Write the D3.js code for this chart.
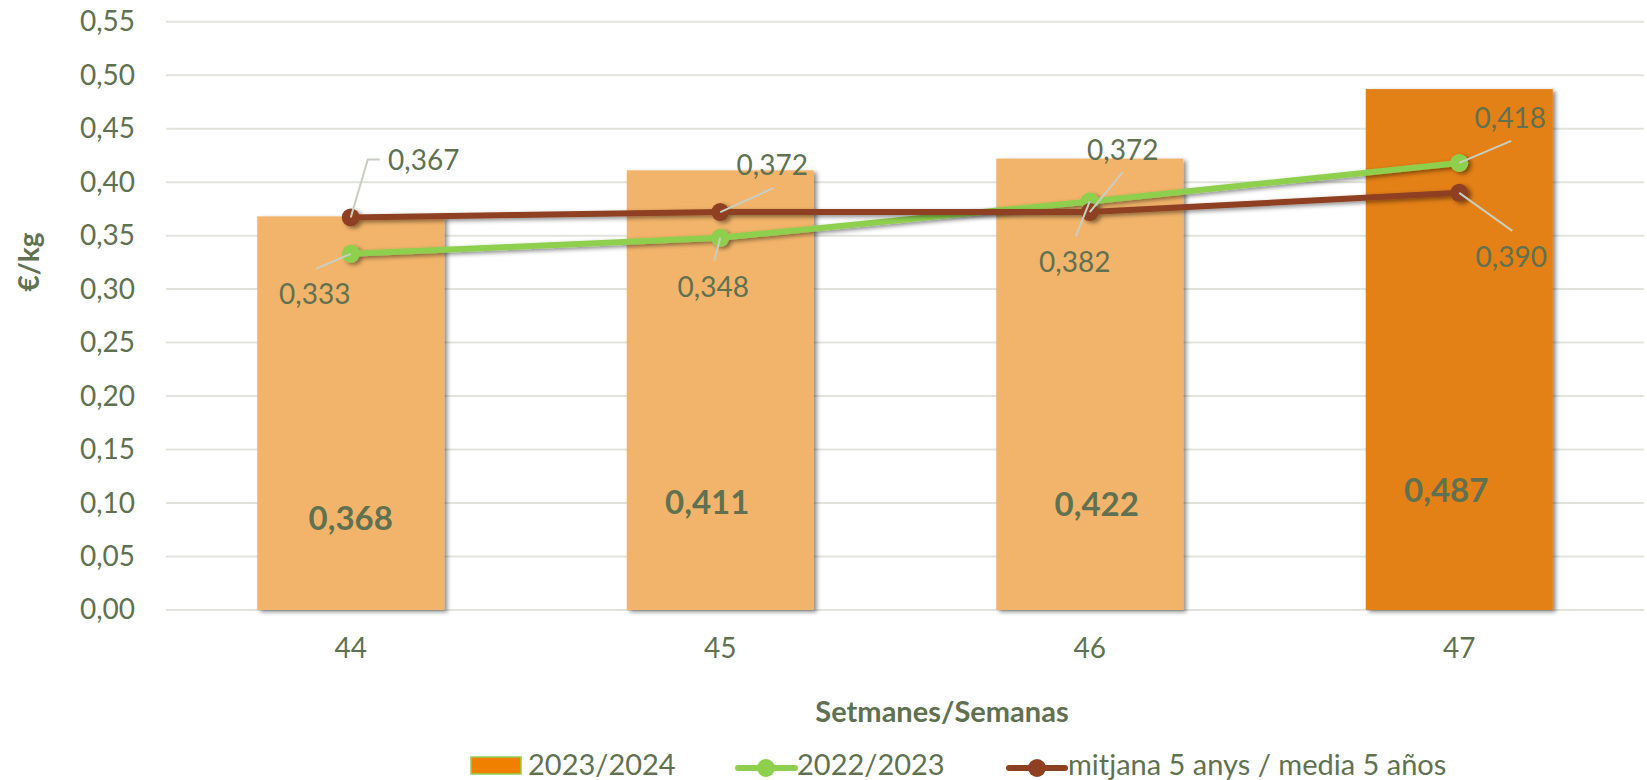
<!DOCTYPE html>
<html>
<head>
<meta charset="utf-8">
<script src="https://cdn.jsdelivr.net/npm/d3@7"></script>
<style>
  body { margin: 0; background: #fff; }
  text { font-family: Lato, "Open Sans", sans-serif; fill: #5f7150; }
</style>
</head>
<body>
<script>
// data
var weeks = ['44', '45', '46', '47'];
var current = [0.368, 0.411, 0.422, 0.487];      // 2023/2024
var lastYear = [0.333, 0.348, 0.382, 0.418];     // 2022/2023
var avg5 = [0.367, 0.372, 0.372, 0.390];         // mitjana 5 anys
var yTicks = [0, 0.05, 0.10, 0.15, 0.20, 0.25, 0.30, 0.35, 0.40, 0.45, 0.50, 0.55];

// label placement (hand tuned, like the excel chart)
var barLabelAt = [0.086, 0.101, 0.099, 0.112];
var barLabelDx = [0, -13, 7, -13];
var avgLabels = [
  {lx: 17, ly: -58, elbow: 12, tx: 73, ty: -57},
  {lx: 53, ly: -24, tx: 52, ty: -47},
  {lx: 33, ly: -40, tx: 33, ty: -62},
  {lx: 53, ly: 38, tx: 52, ty: 64}
];
var lastLabels = [
  {lx: -35, ly: 15, tx: -36, ty: 40},
  {lx: -6, ly: 23, tx: -7, ty: 49},
  {lx: -14, ly: 35, tx: -15, ty: 61},
  {lx: 52, ly: -22, tx: 51, ty: -45}
];

var width = 1647,
    height = 780;

var fmt = d3.formatLocale({decimal: ',', thousands: '.', grouping: [3], currency: ['', '€']});
var f2 = fmt.format('.2f'),
    f3 = fmt.format('.3f');

var svg = d3.select('body')
  .append('svg')
    .attr('width', width)
    .attr('height', height);

var defs = svg.append('defs');
defs.append('filter')
    .attr('id', 'shadow')
    .attr('x', '-10%').attr('y', '-10%')
    .attr('width', '130%').attr('height', '130%')
  .append('feDropShadow')
    .attr('dx', 3).attr('dy', 2)
    .attr('stdDeviation', 2)
    .attr('flood-color', '#000')
    .attr('flood-opacity', 0.45);

var x = d3.scaleBand()
    .domain(weeks)
    .range([166, 1644])
    .paddingInner(0.494)
    .paddingOuter(0.247);

var y = d3.scaleLinear()
    .domain([0, 0.55])
    .range([610, 21.7]);

var cx = function(i){ return x(weeks[i]) + x.bandwidth() / 2; };

// gridlines
svg.append('g')
  .selectAll('line')
  .data(yTicks).enter()
  .append('line')
    .attr('x1', 166)
    .attr('x2', 1644)
    .attr('y1', function(d){ return y(d); })
    .attr('y2', function(d){ return y(d); })
    .attr('stroke', '#e3e3db')
    .attr('stroke-width', 2);

// y axis
var yAxis = svg.append('g')
    .attr('transform', 'translate(140,0)')
    .call(d3.axisLeft(y).tickValues(yTicks).tickFormat(f2).tickSize(0).tickPadding(5));
yAxis.select('.domain').remove();
yAxis.selectAll('text')
    .style('font-size', '28px')
    .style('font-family', 'Lato, sans-serif')
    .attr('fill', '#5f7150');

// x axis
var xAxis = svg.append('g')
    .attr('transform', 'translate(0,610)')
    .call(d3.axisBottom(x).tickSize(0).tickPadding(28));
xAxis.select('.domain').remove();
xAxis.selectAll('text')
    .style('font-size', '28px')
    .style('font-family', 'Lato, sans-serif')
    .attr('fill', '#5f7150');

// bars
svg.append('g')
  .selectAll('rect')
  .data(current).enter()
  .append('rect')
    .attr('x', function(d, i){ return x(weeks[i]); })
    .attr('y', function(d){ return y(d); })
    .attr('width', x.bandwidth())
    .attr('height', function(d){ return y(0) - y(d); })
    .attr('fill', function(d, i){ return i == current.length - 1 ? '#e38012' : '#f2b46b'; })
    .attr('filter', 'url(#shadow)');

svg.append('g')
  .selectAll('text')
  .data(current).enter()
  .append('text')
    .attr('x', function(d, i){ return cx(i) + barLabelDx[i]; })
    .attr('y', function(d, i){ return y(barLabelAt[i]); })
    .attr('dy', '0.35em')
    .attr('text-anchor', 'middle')
    .style('font-size', '33px')
    .style('font-weight', 'bold')
    .text(function(d){ return f3(d); });

// lines
var line = d3.line()
    .x(function(d, i){ return cx(i); })
    .y(function(d){ return y(d); });

function drawSeries(values, color){
  var g = svg.append('g').attr('filter', 'url(#shadow)');
  g.append('path')
      .datum(values)
      .attr('d', line)
      .attr('fill', 'none')
      .attr('stroke', color)
      .attr('stroke-width', 6);
  g.selectAll('circle')
      .data(values).enter()
    .append('circle')
      .attr('cx', function(d, i){ return cx(i); })
      .attr('cy', function(d){ return y(d); })
      .attr('r', 9)
      .attr('fill', color);
}

drawSeries(lastYear, '#8ed04e');
drawSeries(avg5, '#8f4020');

function drawLabels(values, layout){
  var g = svg.append('g');
  values.forEach(function(v, i){
    var px = cx(i), py = y(v), L = layout[i];
    var pts = [[px, py], [px + L.lx, py + L.ly]];
    if (L.elbow) pts.push([px + L.lx + L.elbow, py + L.ly]);
    g.append('path')
        .attr('d', d3.line()(pts))
        .attr('fill', 'none')
        .attr('stroke', '#c8cec2')
        .attr('stroke-width', 2);
    g.append('text')
        .attr('x', px + L.tx)
        .attr('y', py + L.ty)
        .attr('dy', '0.35em')
        .attr('text-anchor', 'middle')
        .style('font-size', '28px')
        .text(f3(v));
  });
}

drawLabels(avg5, avgLabels);
drawLabels(lastYear, lastLabels);

// axis titles
svg.append('text')
    .attr('transform', 'translate(29,262) rotate(-90)')
    .attr('dy', '0.35em')
    .attr('text-anchor', 'middle')
    .style('font-size', '28px')
    .style('font-weight', 'bold')
    .text('€/kg');

svg.append('text')
    .attr('x', 942)
    .attr('y', 712)
    .attr('dy', '0.35em')
    .attr('text-anchor', 'middle')
    .style('font-size', '29px')
    .style('font-weight', 'bold')
    .text('Setmanes/Semanas');

// legend
var leg = svg.append('g').attr('transform', 'translate(0,765)');

leg.append('rect')
    .attr('x', 471).attr('y', -8)
    .attr('width', 50).attr('height', 17)
    .attr('fill', '#f08000')
    .attr('stroke', '#92d050')
    .attr('stroke-width', 1.5);
leg.append('text')
    .attr('x', 528).attr('dy', '0.35em')
    .style('font-size', '29px')
    .text('2023/2024');

leg.append('line')
    .attr('x1', 738).attr('x2', 795)
    .attr('y1', 3).attr('y2', 3)
    .attr('stroke', '#8ed04e')
    .attr('stroke-width', 6)
    .attr('stroke-linecap', 'round');
leg.append('circle')
    .attr('cx', 766).attr('cy', 3).attr('r', 9)
    .attr('fill', '#8ed04e');
leg.append('text')
    .attr('x', 797).attr('dy', '0.35em')
    .style('font-size', '29px')
    .text('2022/2023');

leg.append('line')
    .attr('x1', 1009).attr('x2', 1065)
    .attr('y1', 3).attr('y2', 3)
    .attr('stroke', '#8f4020')
    .attr('stroke-width', 6)
    .attr('stroke-linecap', 'round');
leg.append('circle')
    .attr('cx', 1037).attr('cy', 3).attr('r', 9)
    .attr('fill', '#8f4020');
leg.append('text')
    .attr('x', 1068).attr('dy', '0.35em')
    .style('font-size', '29px')
    .text('mitjana 5 anys / media 5 años');
</script>
</body>
</html>
